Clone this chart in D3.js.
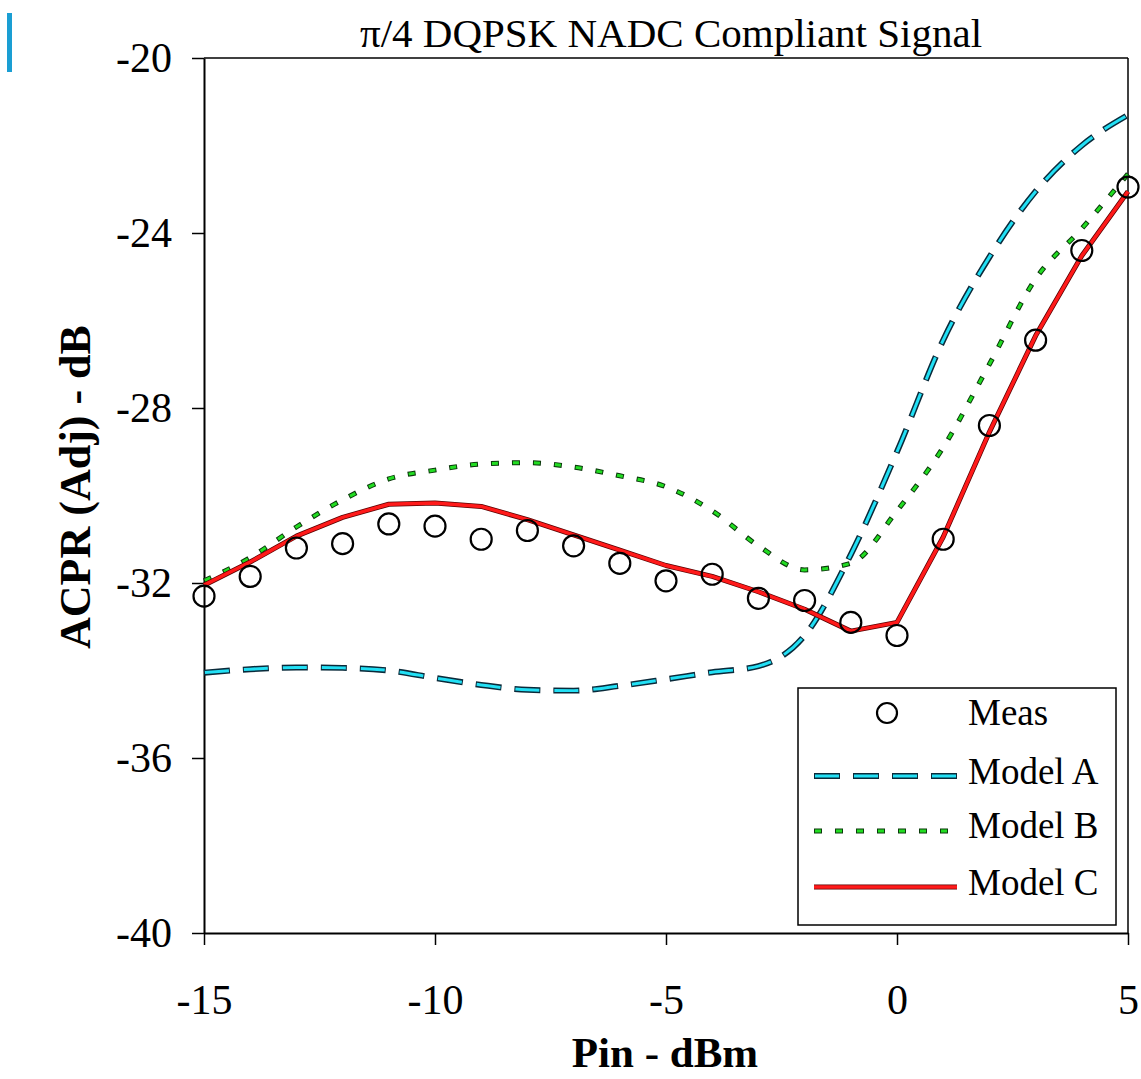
<!DOCTYPE html>
<html>
<head>
<meta charset="utf-8">
<script src="https://cdn.jsdelivr.net/npm/d3@7"></script>
<style>
  html, body { margin: 0; padding: 0; background: #fff; }
  svg { display: block; }
  text { font-family: "Liberation Serif", "Times New Roman", serif; fill: #000; }
</style>
</head>
<body>
<svg id="chart" width="1141" height="1079"></svg>
<script>
// ---- data ----
const pin = [-15, -14, -13, -12, -11, -10, -9, -8, -7, -6, -5, -4, -3, -2, -1, 0, 1, 2, 3, 4, 5];
const meas = [-32.3, -31.85, -31.2, -31.1, -30.65, -30.7, -31.0, -30.8, -31.15, -31.55, -31.95, -31.8, -32.35, -32.4, -32.9, -33.2, -31.0, -28.4, -26.45, -24.4, -22.95];
const modelA = [-34.05, -33.97, -33.93, -33.94, -34.0, -34.17, -34.33, -34.44, -34.46, -34.35, -34.2, -34.04, -33.9, -33.2, -31.35, -29.0, -26.45, -24.55, -23.05, -22.0, -21.3];
const modelB = [-31.95, -31.42, -30.72, -30.1, -29.62, -29.42, -29.28, -29.25, -29.35, -29.55, -29.8, -30.35, -31.15, -31.7, -31.55, -30.35, -28.9, -27.0, -25.05, -23.9, -22.65];
const modelC = [-32.05, -31.52, -30.93, -30.5, -30.2, -30.17, -30.25, -30.55, -30.9, -31.25, -31.6, -31.85, -32.2, -32.6, -33.1, -32.9, -30.95, -28.55, -26.35, -24.52, -23.05];
const xTicks = [-15, -10, -5, 0, 5];
const yTicks = [-20, -24, -28, -32, -36, -40];
const title = "\u03c0/4 DQPSK NADC Compliant Signal";
const xLabel = "Pin - dBm";
const yLabel = "ACPR (Adj) - dB";
const legendLabels = ["Meas", "Model A", "Model B", "Model C"];

// ---- layout ----
const svg = d3.select("#chart");
const L = 204, R = 1128, T = 58, B = 933;
const x = d3.scaleLinear().domain([-15, 5]).range([L, R]);
const y = d3.scaleLinear().domain([-40, -20]).range([B, T]);
const fmt = d => String(d);

// accent bar
svg.append("rect").attr("x", 7).attr("y", 13).attr("width", 5).attr("height", 59).attr("fill", "#1a9ed3");

// axes
const yAxis = d3.axisLeft(y).tickValues(yTicks).tickSize(12).tickSizeOuter(0).tickPadding(20).tickFormat(fmt);
const gy = svg.append("g").attr("transform", `translate(${L},0)`).call(yAxis);
const xAxis = d3.axisBottom(x).tickValues(xTicks).tickSize(12).tickSizeOuter(0).tickPadding(39).tickFormat(fmt);
const gx = svg.append("g").attr("transform", `translate(0,${B})`).call(xAxis);
[gx, gy].forEach(g => {
  g.attr("font-family", null);
  g.selectAll("path.domain").attr("stroke", "#000").attr("stroke-width", 2);
  g.selectAll(".tick line").attr("stroke", "#000").attr("stroke-width", 1.5);
  g.selectAll(".tick text").style("font-family", "'Liberation Serif', serif").style("font-size", "42px").attr("fill", "#000");
});
// frame top/right
svg.append("line").attr("x1", L).attr("x2", R).attr("y1", T).attr("y2", T).attr("stroke", "#000").attr("stroke-width", 1.5);
svg.append("line").attr("x1", R).attr("x2", R).attr("y1", T).attr("y2", B).attr("stroke", "#000").attr("stroke-width", 1.5);

// title & labels
svg.append("text").attr("x", 671).attr("y", 47).attr("text-anchor", "middle").style("font-size", "41px").text(title);
svg.append("text").attr("x", 665).attr("y", 1067).attr("text-anchor", "middle").style("font-size", "43px").style("font-weight", "bold").text(xLabel);
svg.append("text").attr("transform", "translate(90,487) rotate(-90)").attr("text-anchor", "middle").style("font-size", "44px").style("font-weight", "bold").text(yLabel);

// series
const pts = vals => pin.map((p, i) => [p, vals[i]]);
const smooth = d3.line().x(d => x(d[0])).y(d => y(d[1])).curve(d3.curveMonotoneX);
const straight = d3.line().x(d => x(d[0])).y(d => y(d[1]));

const styles = {
  A: { under: { stroke: "#0a2a3a", width: 6, dash: "26,13", off: 0 }, top: { stroke: "#22e0f5", width: 3, dash: "24,15", off: -1 } },
  B: { under: { stroke: "#0b3a0b", width: 5, dash: "8,13", off: 0 }, top: { stroke: "#22dd22", width: 3, dash: "6,15", off: -1 } },
  C: { under: { stroke: "#5a0000", width: 5, dash: null, off: 0 }, top: { stroke: "#ff1a1a", width: 3.5, dash: null, off: 0 } }
};
function drawStyled(g, d, st) {
  ["under", "top"].forEach(k => {
    const s = st[k];
    const p = g.append("path").attr("d", d).attr("fill", "none").attr("stroke", s.stroke)
      .attr("stroke-width", s.width).attr("stroke-linejoin", "round");
    if (s.dash) p.attr("stroke-dasharray", s.dash).attr("stroke-dashoffset", s.off);
  });
}
const gl = svg.append("g");
drawStyled(gl, smooth(pts(modelA)), styles.A);
drawStyled(gl, smooth(pts(modelB)), styles.B);
drawStyled(gl, straight(pts(modelC)), styles.C);

svg.append("g").selectAll("circle").data(pts(meas)).join("circle")
  .attr("cx", d => x(d[0])).attr("cy", d => y(d[1])).attr("r", 10.5)
  .attr("fill", "none").attr("stroke", "#000").attr("stroke-width", 2.2);

// legend
const lg = svg.append("g");
lg.append("rect").attr("x", 798).attr("y", 688).attr("width", 318).attr("height", 237)
  .attr("fill", "#fff").attr("stroke", "#000").attr("stroke-width", 1.5);
lg.append("circle").attr("cx", 887).attr("cy", 713).attr("r", 10).attr("fill", "none").attr("stroke", "#000").attr("stroke-width", 2.2);
const legY = [776, 831, 887];
["A", "B", "C"].forEach((k, i) => {
  drawStyled(lg, `M814,${legY[i]}H957`, styles[k]);
});
const baseY = [725, 784, 838, 895];
legendLabels.forEach((t, i) => {
  lg.append("text").attr("x", 968).attr("y", baseY[i]).style("font-size", "37px").text(t);
});
</script>
</body>
</html>
